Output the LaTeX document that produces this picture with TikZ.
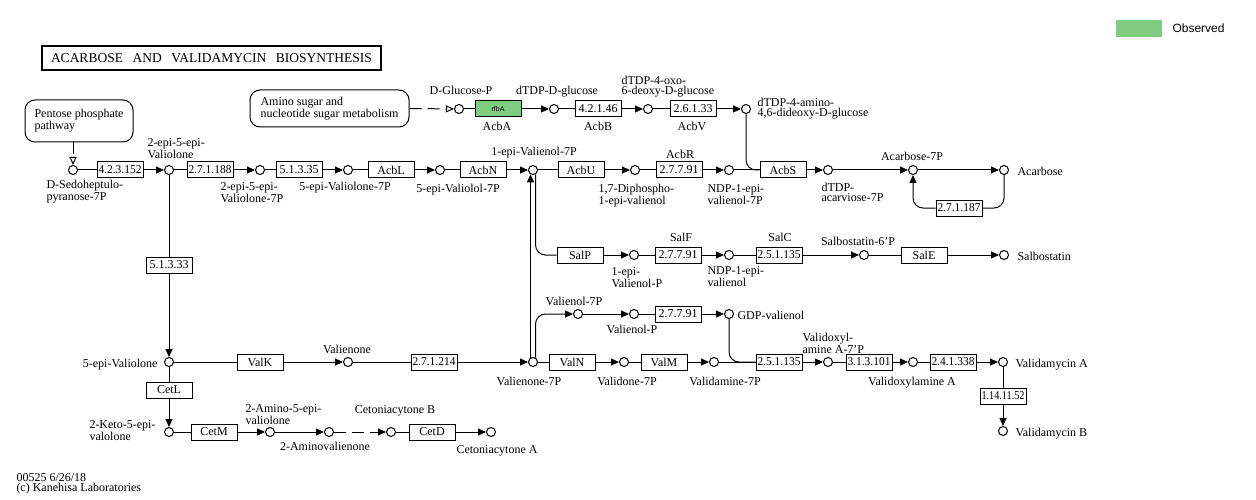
\documentclass[tikz,border=0pt]{standalone}
\usepackage{fontspec}
\setmainfont{Liberation Serif}
\setsansfont{Liberation Sans}
\usepackage{graphicx}
\usetikzlibrary{arrows.meta}
\definecolor{obsgreen}{RGB}{128,204,128}
\newsavebox\ecsave
\newcommand\ecfit[1]{\sbox\ecsave{#1}\ifdim\wd\ecsave>43pt\resizebox{43pt}{\height}{#1}\else\usebox\ecsave\fi}

\begin{document}
\begin{tikzpicture}[x=1pt,y=-1pt,line width=1pt,
   cpd/.style={circle,draw,fill=white,inner sep=0pt,minimum size=9pt},
   ec/.style={draw,fill=white,minimum width=46pt,minimum height=16pt,inner sep=0pt,font=\fontsize{12}{12}\selectfont},
   obs/.style={ec,fill=obsgreen,font=\sffamily\fontsize{7}{7}\selectfont},
   lbl/.style={inner sep=0pt,align=left,font=\fontsize{12}{10}\selectfont},
   mapbox/.style={draw,rounded corners=10pt,align=left,inner sep=0pt,font=\fontsize{12}{10}\selectfont},
   rxn/.style={-{Triangle[length=8pt,width=7pt]}},
   maplink/.style={dash pattern=on 12pt off 6pt,-{Triangle[open,length=8pt,width=7pt]}}]
\fill[white] (0,0) rectangle (1256,500);
\useasboundingbox (0,0) rectangle (1256,500);

\node[draw,line width=2pt,minimum width=339pt,minimum height=24pt,inner sep=0pt,
   font=\fontsize{13.5}{13.5}\selectfont] (title) at (211.5,58)
   {\makebox[321pt][s]{ACARBOSE AND VALIDAMYCIN BIOSYNTHESIS}};
\node[fill=obsgreen,minimum width=46pt,minimum height=17pt,inner sep=0pt] (legend) at (1139,28.5) {};
\node[anchor=west,inner sep=0pt,font=\sffamily\fontsize{12}{12}\selectfont] (obslbl) at (1172,28) {Observed};
\node[lbl,anchor=north west] (footer) at (16,473) {00525 6/26/18\\(c) Kanehisa Laboratories};

\node[mapbox,minimum width=108pt,minimum height=42pt] (ppp) at (79,121) {Pentose phosphate\\pathway};
\node[mapbox,minimum width=159pt,minimum height=37pt] (aminomap) at (329.5,108.5) {Amino sugar and\\nucleotide sugar metabolism};

\node[cpd] (glcp) at (459,109) {};
\node[obs] (rfba) at (498,109) {rfbA};
\node[cpd] (dtdpglc) at (554,109) {};
\node[ec] (e42146) at (598,109) {\ecfit{4.2.1.46}};
\node[cpd] (oxo) at (648,109) {};
\node[ec] (e26133) at (693,109) {\ecfit{2.6.1.33}};
\node[cpd] (amino4) at (746,109) {};

\node[cpd] (sedo) at (73,170) {};
\node[ec] (e423152) at (120,170) {\ecfit{4.2.3.152}};
\node[cpd] (epi2) at (169,170) {};
\node[ec] (e271188) at (210,170) {\ecfit{2.7.1.188}};
\node[cpd] (epi2p) at (260,170) {};
\node[ec] (e51335) at (299,170) {\ecfit{5.1.3.35}};
\node[cpd] (valone7p) at (348,170) {};
\node[ec] (acbl) at (391,170) {AcbL};
\node[cpd] (valol7p) at (440,170) {};
\node[ec] (acbn) at (483,170) {AcbN};
\node[cpd] (evol7p) at (533,170) {};
\node[ec] (acbu) at (581,170) {AcbU};
\node[cpd] (diph) at (635,170) {};
\node[ec] (acbr) at (679,170) {\ecfit{2.7.7.91}};
\node[cpd] (ndp7p) at (729,170) {};
\node[ec] (acbs) at (783,170) {AcbS};
\node[cpd] (acarv) at (828,170) {};
\node[cpd] (acb7p) at (913,170) {};
\node[cpd] (acarbose) at (1004,170) {};
\node[ec] (e271187) at (959,208) {\ecfit{2.7.1.187}};

\node[ec] (salp) at (580,255) {SalP};
\node[cpd] (epivp) at (634,255) {};
\node[ec] (salf) at (678,255) {\ecfit{2.7.7.91}};
\node[cpd] (ndpv) at (729,255) {};
\node[ec] (salc) at (779,255) {\ecfit{2.5.1.135}};
\node[cpd] (salb6p) at (864,255) {};
\node[ec] (sale) at (924,255) {SalE};
\node[cpd] (salb) at (1004,255) {};

\node[cpd] (vol7p) at (578,314) {};
\node[cpd] (volp) at (634,314) {};
\node[ec] (e27791) at (678,314) {\ecfit{2.7.7.91}};
\node[cpd] (gdpv) at (729,314) {};

\node[ec] (e51333) at (169,265) {\ecfit{5.1.3.33}};
\node[cpd] (evalone) at (169,362) {};
\node[ec] (valk) at (260,362) {ValK};
\node[cpd] (valienone) at (348,362) {};
\node[ec] (e271214) at (434,362) {\ecfit{2.7.1.214}};
\node[cpd] (vnone) at (533,362) {};
\node[ec] (valn) at (572,362) {ValN};
\node[cpd] (validone) at (624,362) {};
\node[ec] (valm) at (664,362) {ValM};
\node[cpd] (validamine) at (714,362) {};
\node[ec] (e251135) at (779,362) {\ecfit{2.5.1.135}};
\node[cpd] (vxa7p) at (828,362) {};
\node[ec] (e313101) at (869,362) {\ecfit{3.1.3.101}};
\node[cpd] (vxa) at (913,362) {};
\node[ec] (e241338) at (953,362) {\ecfit{2.4.1.338}};
\node[cpd] (vala) at (1003,362) {};
\node[ec] (e1141152) at (1003,396) {\ecfit{1.14.11.52}};
\node[cpd] (valb) at (1003,431) {};

\node[ec] (cetl) at (169,390) {CetL};
\node[cpd] (keto) at (169,432) {};
\node[ec] (cetm) at (214,432) {CetM};
\node[cpd] (amval) at (270,432) {};
\node[cpd] (aminoval) at (329,432) {};
\node[cpd] (cetb) at (391,432) {};
\node[ec] (cetd) at (432,432) {CetD};
\node[cpd] (ceta) at (491,432) {};

\node[lbl,anchor=north] (tglcp) at (461,86) {D-Glucose-P};
\node[lbl,anchor=north] (tacba) at (497,122) {AcbA};
\node[lbl,anchor=north] (tdtdpglc) at (557,86) {dTDP-D-glucose};
\node[lbl,anchor=north] (tacbb) at (598,122) {AcbB};
\node[lbl,anchor=north west] (toxo) at (621,76) {dTDP-4-oxo-\\6-deoxy-D-glucose};
\node[lbl,anchor=north] (tacbv) at (692,122) {AcbV};
\node[lbl,anchor=north west] (tamino4) at (757,98) {dTDP-4-amino-\\4,6-dideoxy-D-glucose};
\node[lbl,anchor=north west] (tsedo) at (46,180) {D-Sedoheptulo-\\pyranose-7P};
\node[lbl,anchor=north west] (tepi2) at (147,138) {2-epi-5-epi-\\Valiolone};
\node[lbl,anchor=north west] (tepi2p) at (220,182) {2-epi-5-epi-\\Valiolone-7P};
\node[lbl,anchor=north] (tvalone7p) at (345,182) {5-epi-Valiolone-7P};
\node[lbl,anchor=north] (tvalol7p) at (458,184) {5-epi-Valiolol-7P};
\node[lbl,anchor=north] (tevol7p) at (534,147) {1-epi-Valienol-7P};
\node[lbl,anchor=north west] (tdiph) at (598,184) {1,7-Diphospho-\\1-epi-valienol};
\node[lbl,anchor=north] (tacbr) at (680,150) {AcbR};
\node[lbl,anchor=north west] (tndp7p) at (707,184) {NDP-1-epi-\\valienol-7P};
\node[lbl,anchor=north west] (tacarv) at (821,183) {dTDP-\\acarviose-7P};
\node[lbl,anchor=north] (tacb7p) at (912,152) {Acarbose-7P};
\node[lbl,anchor=north west] (tacarbose) at (1017,167) {Acarbose};
\node[lbl,anchor=north] (tsalf) at (681,233) {SalF};
\node[lbl,anchor=north] (tsalc) at (780,233) {SalC};
\node[lbl,anchor=north west] (tepivp) at (611,267) {1-epi-\\Valienol-P};
\node[lbl,anchor=north west] (tndpv) at (707,266) {NDP-1-epi-\\valienol};
\node[lbl,anchor=north] (tsalb6p) at (858,237) {Salbostatin-6'P};
\node[lbl,anchor=north west] (tsalb) at (1017,252) {Salbostatin};
\node[lbl,anchor=north] (tvol7p) at (574,297) {Valienol-7P};
\node[lbl,anchor=north] (tvolp) at (632,325) {Valienol-P};
\node[lbl,anchor=north west] (tgdpv) at (737,311) {GDP-valienol};
\node[lbl,anchor=north east] (tevalone) at (158,359) {5-epi-Valiolone};
\node[lbl,anchor=north] (tvalienone) at (347,345) {Valienone};
\node[lbl,anchor=north] (tvnone) at (529,377) {Valienone-7P};
\node[lbl,anchor=north] (tvalidone) at (627,377) {Validone-7P};
\node[lbl,anchor=north] (tvalidamine) at (725,377) {Validamine-7P};
\node[lbl,anchor=north west] (tvxa7p) at (802,333) {Validoxyl-\\amine A-7'P};
\node[lbl,anchor=north] (tvxa) at (912,377) {Validoxylamine A};
\node[lbl,anchor=north west] (tvala) at (1015,359) {Validamycin A};
\node[lbl,anchor=north west] (tvalb) at (1015,428) {Validamycin B};
\node[lbl,anchor=north west] (tketo) at (89,420) {2-Keto-5-epi-\\valolone};
\node[lbl,anchor=north west] (tamval) at (245,404) {2-Amino-5-epi-\\valiolone};
\node[lbl,anchor=north] (taminoval) at (325,442) {2-Aminovalienone};
\node[lbl,anchor=north] (tcetb) at (395,405) {Cetoniacytone B};
\node[lbl,anchor=north] (tceta) at (497,445) {Cetoniacytone A};

\draw[maplink] (aminomap.east) -- (glcp);
\draw (glcp) -- (rfba); \draw[rxn] (rfba) -- (dtdpglc);
\draw (dtdpglc) -- (e42146); \draw[rxn] (e42146) -- (oxo);
\draw (oxo) -- (e26133); \draw[rxn] (e26133) -- (amino4);
\draw[rounded corners=10pt] (amino4.south) |- (acbs.west);

\draw[maplink] (ppp.south -| sedo) -- (sedo);
\draw (sedo) -- (e423152); \draw[rxn] (e423152) -- (epi2);
\draw (epi2) -- (e271188); \draw[rxn] (e271188) -- (epi2p);
\draw (epi2p) -- (e51335); \draw[rxn] (e51335) -- (valone7p);
\draw (valone7p) -- (acbl); \draw[rxn] (acbl) -- (valol7p);
\draw (valol7p) -- (acbn); \draw[rxn] (acbn) -- (evol7p);
\draw (evol7p) -- (acbu); \draw[rxn] (acbu) -- (diph);
\draw (diph) -- (acbr); \draw[rxn] (acbr) -- (ndp7p);
\draw (ndp7p) -- (acbs); \draw[rxn] (acbs) -- (acarv);
\draw[rxn] (acarv) -- (acb7p); \draw[rxn] (acb7p) -- (acarbose);
\draw[rounded corners=10pt] (acarbose.south) |- (e271187.east);
\draw[rxn,rounded corners=10pt] (e271187.west) -| (acb7p.south);

\draw (epi2) -- (e51333); \draw[rxn] (e51333) -- (evalone);
\draw[rxn] (vnone.120) -- (evol7p.240);
\draw[rounded corners=10pt] (evol7p.300) |- (salp.west);
\draw[rxn,rounded corners=10pt] (vnone.60) |- (vol7p.west);

\draw[rxn] (salp) -- (epivp);
\draw (epivp) -- (salf); \draw[rxn] (salf) -- (ndpv);
\draw (ndpv) -- (salc); \draw[rxn] (salc) -- (salb6p);
\draw (salb6p) -- (sale); \draw[rxn] (sale) -- (salb);

\draw[rxn] (vol7p) -- (volp);
\draw (volp) -- (e27791); \draw[rxn] (e27791) -- (gdpv);
\draw[rounded corners=10pt] (gdpv.south) |- (e251135.west);

\draw (evalone) -- (valk); \draw[rxn] (valk) -- (valienone);
\draw (valienone) -- (e271214); \draw[rxn] (e271214) -- (vnone);
\draw (vnone) -- (valn); \draw[rxn] (valn) -- (validone);
\draw (validone) -- (valm); \draw[rxn] (valm) -- (validamine);
\draw (validamine) -- (e251135); \draw[rxn] (e251135) -- (vxa7p);
\draw (vxa7p) -- (e313101); \draw[rxn] (e313101) -- (vxa);
\draw (vxa) -- (e241338); \draw[rxn] (e241338) -- (vala);
\draw (vala) -- (e1141152); \draw[rxn] (e1141152) -- (valb);

\draw (evalone) -- (cetl); \draw[rxn] (cetl) -- (keto);
\draw (keto) -- (cetm); \draw[rxn] (cetm) -- (amval);
\draw[rxn] (amval) -- (aminoval);
\draw[rxn,dash pattern=on 12pt off 6pt] (aminoval) -- (cetb);
\draw (cetb) -- (cetd); \draw[rxn] (cetd) -- (ceta);
\end{tikzpicture}
\end{document}
